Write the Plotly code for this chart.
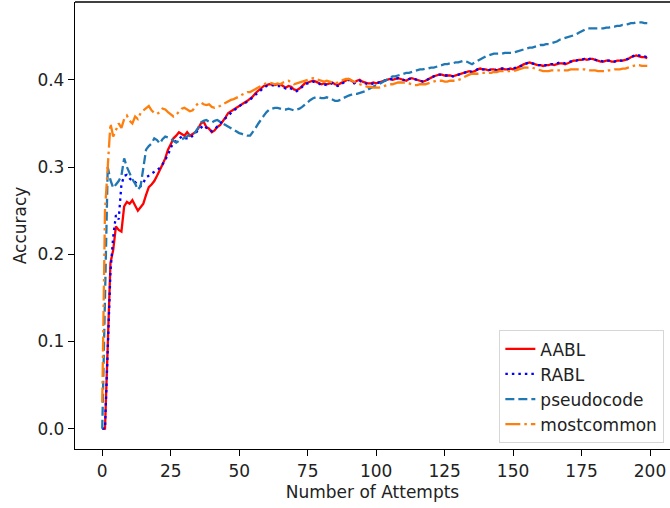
import plotly.graph_objects as go

attempts = list(range(200))

aabl = [
    0.000, 0.000, 0.095, 0.190, 0.205, 0.232, 0.228, 0.226, 0.255, 0.260,
    0.258, 0.262, 0.256, 0.250, 0.254, 0.258, 0.268, 0.277, 0.280, 0.284,
    0.290, 0.296, 0.303, 0.310, 0.320, 0.326, 0.333, 0.336, 0.340, 0.338,
    0.336, 0.340, 0.336, 0.338, 0.340, 0.344, 0.350, 0.352, 0.346, 0.344,
    0.340, 0.342, 0.346, 0.348, 0.352, 0.357, 0.362, 0.364, 0.366, 0.368,
    0.371, 0.373, 0.374, 0.376, 0.378, 0.381, 0.385, 0.388, 0.391, 0.393,
    0.394, 0.395, 0.395, 0.394, 0.395, 0.395, 0.393, 0.391, 0.393, 0.392,
    0.389, 0.388, 0.390, 0.393, 0.396, 0.397, 0.398, 0.399, 0.398, 0.396,
    0.395, 0.396, 0.395, 0.396, 0.397, 0.395, 0.394, 0.396, 0.398, 0.400,
    0.401, 0.399, 0.397, 0.399, 0.400, 0.398, 0.397, 0.396, 0.396, 0.397,
    0.396, 0.397, 0.398, 0.399, 0.400, 0.401, 0.400, 0.401, 0.402, 0.401,
    0.400, 0.399, 0.401, 0.402, 0.401, 0.400, 0.399, 0.398, 0.399, 0.401,
    0.403, 0.404, 0.405, 0.406, 0.406, 0.405, 0.405, 0.405, 0.404, 0.405,
    0.406, 0.407, 0.408, 0.409, 0.410, 0.409, 0.410, 0.412, 0.413, 0.412,
    0.412, 0.411, 0.412, 0.412, 0.411, 0.412, 0.413, 0.412, 0.412, 0.413,
    0.412, 0.413, 0.415, 0.416, 0.418, 0.419, 0.420, 0.419, 0.418, 0.417,
    0.417, 0.416, 0.417, 0.417, 0.418, 0.417, 0.418, 0.419, 0.419, 0.418,
    0.419, 0.421, 0.422, 0.422, 0.423, 0.423, 0.424, 0.423, 0.424, 0.424,
    0.423, 0.422, 0.421, 0.421, 0.422, 0.422, 0.421, 0.421, 0.422, 0.422,
    0.422, 0.423, 0.424, 0.426, 0.427, 0.428, 0.427, 0.426, 0.426, 0.425,
]

rabl = [
    0.000, 0.000, 0.090, 0.180, 0.220, 0.245, 0.240, 0.280, 0.290, 0.291,
    0.287, 0.284, 0.283, 0.279, 0.278, 0.282, 0.288, 0.290, 0.293, 0.294,
    0.296, 0.299, 0.303, 0.308, 0.314, 0.322, 0.328, 0.330, 0.333, 0.335,
    0.333, 0.333, 0.333, 0.336, 0.339, 0.342, 0.346, 0.348, 0.345, 0.343,
    0.341, 0.343, 0.347, 0.350, 0.353, 0.356, 0.360, 0.363, 0.365, 0.367,
    0.370, 0.372, 0.373, 0.375, 0.377, 0.380, 0.383, 0.386, 0.389, 0.391,
    0.393, 0.394, 0.394, 0.393, 0.393, 0.393, 0.392, 0.390, 0.391, 0.390,
    0.388, 0.387, 0.389, 0.392, 0.395, 0.396, 0.397, 0.398, 0.397, 0.396,
    0.394, 0.395, 0.394, 0.395, 0.396, 0.394, 0.393, 0.395, 0.397, 0.399,
    0.400, 0.398, 0.396, 0.398, 0.399, 0.397, 0.396, 0.395, 0.395, 0.396,
    0.396, 0.397, 0.398, 0.399, 0.400, 0.401, 0.401, 0.401, 0.402, 0.401,
    0.400, 0.399, 0.401, 0.402, 0.401, 0.400, 0.399, 0.398, 0.399, 0.401,
    0.403, 0.404, 0.405, 0.406, 0.406, 0.405, 0.405, 0.405, 0.404, 0.405,
    0.406, 0.407, 0.408, 0.409, 0.410, 0.409, 0.410, 0.412, 0.413, 0.412,
    0.412, 0.411, 0.412, 0.412, 0.411, 0.412, 0.413, 0.412, 0.412, 0.413,
    0.413, 0.414, 0.415, 0.416, 0.418, 0.419, 0.420, 0.419, 0.418, 0.417,
    0.417, 0.416, 0.417, 0.417, 0.418, 0.418, 0.419, 0.420, 0.420, 0.419,
    0.420, 0.421, 0.422, 0.422, 0.423, 0.423, 0.424, 0.423, 0.424, 0.424,
    0.423, 0.422, 0.422, 0.421, 0.422, 0.422, 0.421, 0.421, 0.422, 0.422,
    0.422, 0.423, 0.424, 0.426, 0.428, 0.429, 0.428, 0.427, 0.427, 0.426,
]

pseudocode = [
    0.000, 0.150, 0.300, 0.285, 0.276, 0.280, 0.284, 0.290, 0.310, 0.300,
    0.292, 0.286, 0.281, 0.274, 0.278, 0.300, 0.320, 0.324, 0.327, 0.333,
    0.331, 0.327, 0.332, 0.335, 0.334, 0.333, 0.330, 0.328, 0.330, 0.332,
    0.334, 0.335, 0.337, 0.338, 0.340, 0.345, 0.351, 0.353, 0.354, 0.352,
    0.351, 0.353, 0.354, 0.352, 0.350, 0.349, 0.347, 0.344, 0.342, 0.340,
    0.339, 0.338, 0.337, 0.336, 0.336, 0.340, 0.345, 0.350, 0.355, 0.359,
    0.363, 0.366, 0.367, 0.368, 0.368, 0.367, 0.366, 0.366, 0.367, 0.366,
    0.365, 0.366, 0.367, 0.369, 0.372, 0.375, 0.377, 0.379, 0.380, 0.380,
    0.379, 0.379, 0.380, 0.379, 0.377, 0.376, 0.376, 0.377, 0.379, 0.381,
    0.382, 0.383, 0.384, 0.384, 0.385, 0.386, 0.387, 0.389, 0.391, 0.393,
    0.394, 0.395, 0.397, 0.399, 0.401, 0.403, 0.404, 0.404, 0.405, 0.406,
    0.407, 0.408, 0.408, 0.409, 0.410, 0.411, 0.412, 0.412, 0.413, 0.413,
    0.414, 0.414, 0.415, 0.416, 0.417, 0.418, 0.418, 0.419, 0.419, 0.420,
    0.420, 0.421, 0.422, 0.421, 0.419, 0.418, 0.420, 0.422, 0.424, 0.426,
    0.427, 0.428, 0.429, 0.430, 0.430, 0.430, 0.430, 0.431, 0.431, 0.431,
    0.431, 0.432, 0.433, 0.434, 0.435, 0.436, 0.437, 0.437, 0.438, 0.439,
    0.440, 0.440, 0.441, 0.441, 0.442, 0.443, 0.444, 0.446, 0.447, 0.448,
    0.449, 0.450, 0.451, 0.452, 0.454, 0.456, 0.458, 0.459, 0.459, 0.459,
    0.459, 0.459, 0.459, 0.459, 0.460, 0.460, 0.461, 0.461, 0.462, 0.462,
    0.463, 0.463, 0.464, 0.465, 0.465, 0.466, 0.466, 0.466, 0.465, 0.465,
]

mostcommon = [
    0.030, 0.250, 0.300, 0.350, 0.335, 0.342, 0.350, 0.345, 0.355, 0.359,
    0.353, 0.350, 0.358, 0.355, 0.362, 0.365, 0.367, 0.370, 0.365, 0.362,
    0.361, 0.363, 0.367, 0.366, 0.363, 0.360, 0.358, 0.360, 0.364, 0.367,
    0.368, 0.366, 0.364, 0.365, 0.370, 0.373, 0.374, 0.372, 0.371, 0.372,
    0.369, 0.368, 0.369, 0.370, 0.372, 0.374, 0.375, 0.377, 0.378, 0.380,
    0.381, 0.383, 0.385, 0.386, 0.386, 0.388, 0.390, 0.392, 0.393, 0.395,
    0.396, 0.397, 0.396, 0.395, 0.396, 0.395, 0.397, 0.398, 0.399, 0.397,
    0.395, 0.396, 0.397, 0.398, 0.399, 0.400, 0.401, 0.402, 0.401, 0.400,
    0.399, 0.398, 0.399, 0.398, 0.397, 0.396, 0.397, 0.398, 0.400, 0.401,
    0.401, 0.399, 0.398, 0.396, 0.395, 0.394, 0.393, 0.392, 0.392, 0.391,
    0.391, 0.391, 0.392, 0.393, 0.394, 0.395, 0.395, 0.396, 0.397, 0.397,
    0.397, 0.397, 0.396, 0.395, 0.394, 0.394, 0.395, 0.395, 0.395, 0.396,
    0.397, 0.398, 0.399, 0.399, 0.399, 0.398, 0.398, 0.399, 0.399, 0.399,
    0.400, 0.401, 0.403, 0.405, 0.406, 0.407, 0.407, 0.407, 0.408, 0.408,
    0.408, 0.408, 0.408, 0.409, 0.409, 0.410, 0.410, 0.410, 0.410, 0.410,
    0.410, 0.411, 0.412, 0.413, 0.414, 0.414, 0.414, 0.414, 0.413, 0.412,
    0.411, 0.410, 0.410, 0.410, 0.411, 0.411, 0.411, 0.411, 0.411, 0.411,
    0.411, 0.412, 0.412, 0.412, 0.412, 0.412, 0.412, 0.411, 0.411, 0.411,
    0.411, 0.410, 0.410, 0.410, 0.410, 0.411, 0.411, 0.412, 0.412, 0.412,
    0.413, 0.413, 0.414, 0.415, 0.416, 0.417, 0.417, 0.416, 0.416, 0.416,
]

x_ticks = [0, 25, 50, 75, 100, 125, 150, 175, 200]
y_ticks = [0.0, 0.1, 0.2, 0.3, 0.4]

series = [
    ("AABL", aabl, "#ff0000", "solid"),
    ("RABL", rabl, "#0000ff", "2.5px,4px"),
    ("pseudocode", pseudocode, "#1f77b4", "9px,4px"),
    ("mostcommon", mostcommon, "#ff7f0e", "15px,4px,2.5px,4px"),
]

fig = go.Figure()
for i, (name, vals, color, dash) in enumerate(series):
    fig.add_trace(go.Scatter(
        x=attempts, y=vals, mode="lines", name=name, legendgroup=f"g{i}",
        line=dict(color=color, width=2.3, dash=dash),
    ))

font = dict(family="DejaVu Sans", size=17, color="#222222")

fig.update_layout(
    width=670, height=508,
    margin=dict(l=75, r=0, t=2, b=59),
    plot_bgcolor="white", paper_bgcolor="white",
    font=font,
    showlegend=True,
    legend=dict(
        x=0.99, y=0.0134, xanchor="right", yanchor="bottom",
        bordercolor="#d6d6d6", borderwidth=1.3, bgcolor="rgba(255,255,255,0.8)",
        font=font,
        tracegroupgap=0,
    ),
    xaxis=dict(
        range=[-9.95, 207.3], tickvals=x_ticks, ticktext=[str(v) for v in x_ticks],
        showgrid=False, zeroline=False, showline=True, linecolor="black", linewidth=1.3,
        ticks="outside", ticklen=6, tickwidth=1.3, tickcolor="black",
        title=dict(text="Number of Attempts", font=font, standoff=6),
    ),
    yaxis=dict(
        range=[-0.0233, 0.4893], tickvals=y_ticks, ticktext=[f"{v:.1f}" for v in y_ticks],
        showgrid=False, zeroline=False, showline=True, linecolor="black", linewidth=1.3,
        ticks="outside", ticklen=6, tickwidth=1.3, tickcolor="black",
        title=dict(text="Accuracy", font=font, standoff=6),
    ),
    shapes=[dict(type="line", xref="paper", yref="paper", x0=0, x1=1, y0=1, y1=1,
                 line=dict(color="black", width=1.3))],
)

fig.write_html("out.html")
